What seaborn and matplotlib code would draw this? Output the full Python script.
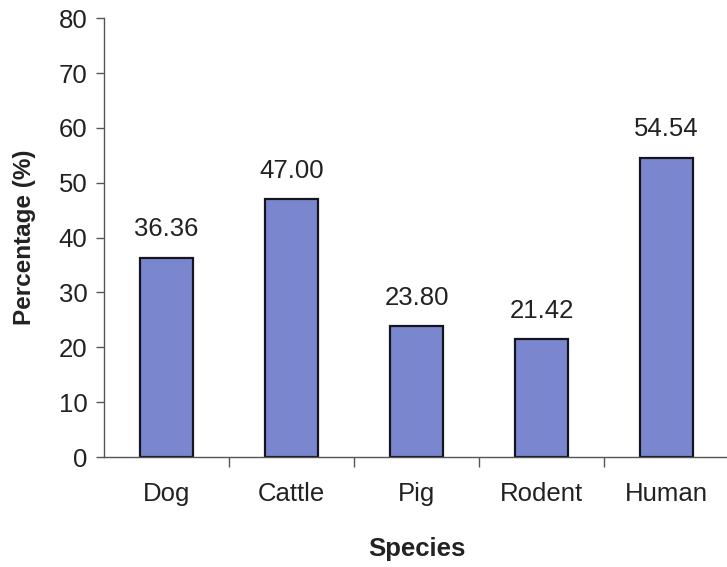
import numpy as np
import pandas as pd
import seaborn as sns
import matplotlib.pyplot as plt

species = ['Dog', 'Cattle', 'Pig', 'Rodent', 'Human']
percentage = [36.36, 47.00, 23.80, 21.42, 54.54]
labels = ['36.36', '47.00', '23.80', '21.42', '54.54']

sns.set_style('white')
plt.rcParams['font.family'] = ['Liberation Sans', 'DejaVu Sans']

datos = pd.DataFrame({'Species': species, 'Percentage': percentage})

fig = plt.figure(figsize=(7.27, 5.67), dpi=100)
ax = fig.add_axes([0.143, 0.194, 0.86, 0.774])

sns.barplot(data=datos, x='Species', y='Percentage', color='#7a87cf',
            saturation=1, width=0.42, edgecolor='#15151f', linewidth=1.6, ax=ax)

# etiquetas de valor encima de cada barra
for i, (v, t) in enumerate(zip(percentage, labels)):
    ax.text(i, v + 3.0, t, ha='center', va='bottom', fontsize=18.5, color='#222222')

ax.set_ylim(0, 80)
ax.set_xlim(-0.5, 4.5)
ax.set_yticks(np.arange(0, 81, 10))
ax.set_xticks(np.arange(0.5, 4.5, 1), minor=True)
ax.tick_params(axis='x', which='major', bottom=False, length=0, pad=18, labelsize=18.5,
               labelcolor='#222222')
ax.tick_params(axis='x', which='minor', bottom=True, length=7, width=1, color='#555555',
               direction='out')
ax.tick_params(axis='y', which='major', left=True, length=6, width=1, color='#555555',
               direction='out', labelsize=18.5, labelcolor='#222222', pad=6)

sns.despine(ax=ax, top=True, right=True)
for s in ['left', 'bottom']:
    ax.spines[s].set_color('#555555')
    ax.spines[s].set_linewidth(1)

ax.set_xlabel('Species', fontsize=18.5, fontweight='bold', labelpad=22, color='#222222')
ax.set_ylabel('Percentage (%)', fontsize=17.5, fontweight='bold', labelpad=16, color='#222222')

fig.savefig('out.png', dpi=100, facecolor='white')
